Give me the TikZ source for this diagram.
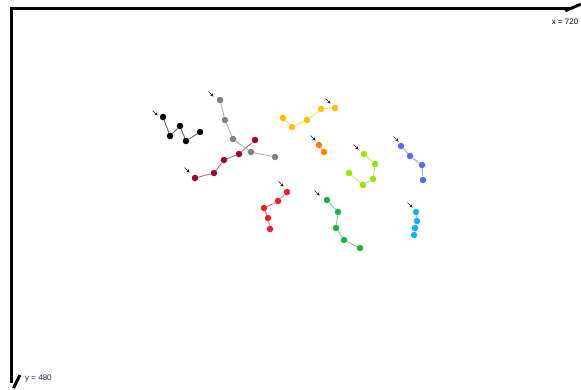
\documentclass[tikz,border=0pt]{standalone}
\usepackage{fontspec}
\setmainfont{Liberation Sans}
\usetikzlibrary{arrows.meta}
\definecolor{cCrim}{RGB}{160,0,58}
\definecolor{cGray}{RGB}{128,128,128}
\definecolor{cYel}{RGB}{255,190,0}
\definecolor{cOra}{RGB}{255,128,0}
\definecolor{cLime}{RGB}{160,224,0}
\definecolor{cBlue}{RGB}{80,110,240}
\definecolor{cCyan}{RGB}{16,176,240}
\definecolor{cRed}{RGB}{235,30,45}
\definecolor{cGreen}{RGB}{30,176,80}
\definecolor{cNavy}{RGB}{30,40,80}
\tikzset{
  dot/.style={circle,fill=#1,inner sep=0pt,minimum size=6.5pt},
  seg/.style={draw=#1!60,line width=0.9pt},
  marker/.style={-{Stealth[length=3pt,width=3.5pt]},line width=0.7pt,black!85},
  axisline/.style={line width=3pt,black},
  lbl/.style={font=\fontsize{8}{9}\selectfont,inner sep=0pt}
}
\begin{document}
\begin{tikzpicture}[x=1pt,y=-1pt]
\useasboundingbox (0,0) rectangle (581,389);
\fill[white] (0,0) rectangle (581,389);
% axes
\coordinate (o) at (11.5,8.5);
\coordinate (yend) at (11.5,383);
\coordinate (xend) at (570,8.5);
\draw[axisline] (yend) -- (o) -- (xend);
\coordinate (xt1) at (566,10.5);
\coordinate (xt2) at (580,4.5);
\draw[line width=3pt,line cap=round] (xt1) -- (xt2);
\coordinate (yt1) at (13.5,388);
\coordinate (yt2) at (20,375);
\draw[line width=3pt] (yt1) -- (yt2);
\node[lbl,anchor=north east] (xl) at (578.5,19) {x = 720};
\node[lbl,anchor=west,text=cNavy] (yl) at (25,379) {y = 480};

% black
\foreach \i/\p in {1/{163,117},2/{170,136},3/{180,126},4/{186,141},5/{200,132}}
  \node[dot=black] (k\i) at (\p) {};
\draw[seg=black] (k1)--(k2)--(k3)--(k4)--(k5);
\coordinate (ka1) at (152.5,110.5); \coordinate (ka2) at (157.5,115.5);
\draw[marker] (ka1)--(ka2);

% gray
\foreach \i/\p in {1/{220,100},2/{225,120},3/{233,139},4/{251,152},5/{275,157}}
  \node[dot=cGray] (g\i) at (\p) {};
\draw[seg=cGray] (g1)--(g2)--(g3)--(g4)--(g5);
\coordinate (ga1) at (208.5,91.5); \coordinate (ga2) at (213.5,96.5);
\draw[marker] (ga1)--(ga2);

% crimson
\foreach \i/\p in {1/{195,178},2/{214,173},3/{224,160},4/{239,154},5/{255,140}}
  \node[dot=cCrim] (c\i) at (\p) {};
\draw[seg=cCrim] (c1)--(c2)--(c3)--(c4)--(c5);
\coordinate (ca1) at (184.5,167.5); \coordinate (ca2) at (189.5,172.5);
\draw[marker] (ca1)--(ca2);

% yellow
\foreach \i/\p in {1/{283,118},2/{292,127},3/{307,120},4/{321,109},5/{335,108}}
  \node[dot=cYel] (y\i) at (\p) {};
\draw[seg=cYel] (y1)--(y2)--(y3)--(y4)--(y5);
\coordinate (ya1) at (325.5,98.5); \coordinate (ya2) at (330.5,103.5);
\draw[marker] (ya1)--(ya2);

% orange
\foreach \i/\p in {1/{319,145},2/{324,152}}
  \node[dot=cOra] (o\i) at (\p) {};
\draw[seg=cOra] (o1)--(o2);
\coordinate (oa1) at (310.5,135.5); \coordinate (oa2) at (315.5,140.5);
\draw[marker] (oa1)--(oa2);

% lime
\foreach \i/\p in {1/{364,154},2/{375,164},3/{373,179},4/{363,185},5/{349,173}}
  \node[dot=cLime] (l\i) at (\p) {};
\draw[seg=cLime] (l1)--(l2)--(l3)--(l4)--(l5);
\coordinate (la1) at (353.5,144.5); \coordinate (la2) at (358.5,149.5);
\draw[marker] (la1)--(la2);

% blue
\foreach \i/\p in {1/{401,146},2/{410,156},3/{422,165},4/{423,180}}
  \node[dot=cBlue] (b\i) at (\p) {};
\draw[seg=cBlue] (b1)--(b2)--(b3)--(b4);
\coordinate (ba1) at (393.5,136.5); \coordinate (ba2) at (398.5,141.5);
\draw[marker] (ba1)--(ba2);

% cyan
\foreach \i/\p in {1/{416,212},2/{417,221},3/{415,228},4/{414,235}}
  \node[dot=cCyan] (q\i) at (\p) {};
\draw[seg=cCyan] (q1)--(q2)--(q3)--(q4);
\coordinate (qa1) at (407.5,202.5); \coordinate (qa2) at (412.5,207.5);
\draw[marker] (qa1)--(qa2);

% red
\foreach \i/\p in {1/{287,192},2/{278,201},3/{264,208},4/{268,218},5/{270,229}}
  \node[dot=cRed] (r\i) at (\p) {};
\draw[seg=cRed] (r1)--(r2)--(r3)--(r4)--(r5);
\coordinate (ra1) at (278.5,181.5); \coordinate (ra2) at (283.5,186.5);
\draw[marker] (ra1)--(ra2);

% green
\foreach \i/\p in {1/{327,200},2/{338,212},3/{336,228},4/{344,240},5/{360,248}}
  \node[dot=cGreen] (n\i) at (\p) {};
\draw[seg=cGreen] (n1)--(n2)--(n3)--(n4)--(n5);
\coordinate (na1) at (314.5,190.5); \coordinate (na2) at (319.5,195.5);
\draw[marker] (na1)--(na2);
\end{tikzpicture}
\end{document}
